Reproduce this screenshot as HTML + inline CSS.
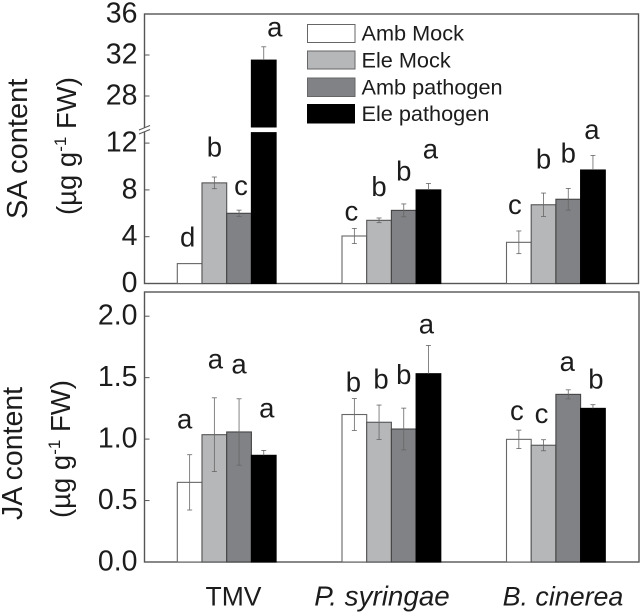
<!DOCTYPE html>
<html lang="en">
<head>
<meta charset="utf-8">
<title>SA and JA content chart</title>
<style>
html,body{margin:0;padding:0;background:#fff;width:640px;height:612px;overflow:hidden}
svg{display:block}
text{font-family:"Liberation Sans",sans-serif;fill:#1c1c1c}
</style>
</head>
<body>
<svg id="chart" xmlns="http://www.w3.org/2000/svg" width="640" height="612" viewBox="0 0 640 612">
  <g>
    <text transform="translate(27,219) rotate(-90)" font-size="29">SA content</text>
    <text transform="translate(76,215) rotate(-90)" font-size="27.5">(µg g<tspan dy="-10" font-size="17">-1</tspan><tspan dy="10"> FW)</tspan></text>
  </g>
  <g>
    <text transform="translate(22,520) rotate(-90)" font-size="28.5">JA content</text>
    <text transform="translate(70,518) rotate(-90)" font-size="27.5">(µg g<tspan dy="-10" font-size="17">-1</tspan><tspan dy="10"> FW)</tspan></text>
  </g>
  <g>
    <text x="233.5" y="605.5" font-size="26.5" text-anchor="middle">TMV</text>
    <text x="382" y="605.5" font-size="27.8" text-anchor="middle" font-style="italic">P. syringae</text>
    <text x="563" y="605.5" font-size="26.8" text-anchor="middle" font-style="italic">B. cinerea</text>
  </g>
  <g>
    <rect x="307.5" y="24.5" width="47.5" height="18" fill="#fff" stroke="#666"/>
    <text x="361.5" y="40.5" font-size="21.7">Amb Mock</text>
    <rect x="307.5" y="51" width="47.5" height="18" fill="#b5b7b9" stroke="#666"/>
    <text x="361.5" y="67.5" font-size="21.7">Ele Mock</text>
    <rect x="307.5" y="78" width="47.5" height="18.5" fill="#808285" stroke="#666"/>
    <text x="361.5" y="94.5" font-size="21.7">Amb pathogen</text>
    <rect x="307" y="104" width="48" height="19.5" fill="#000"/>
    <text x="361.5" y="121" font-size="21.7">Ele pathogen</text>
  </g>
</svg>
<script>
const groupNames = ['TMV', 'P. syringae', 'B. cinerea'];
const seriesNames = ['Amb Mock', 'Ele Mock', 'Amb pathogen', 'Ele pathogen'];

const saAmbMock = [1.7, 4.06, 3.52];
const saEleMock = [8.6, 5.4, 6.73];
const saAmbPathogen = [6.0, 6.25, 7.2];
const saElePathogen = [31.5, 8.0, 9.7];
const saAmbMockErr = [0, 0.65, 0.97];
const saEleMockErr = [0.5, 0.2, 1.0];
const saAmbPathogenErr = [0.27, 0.55, 0.93];
const saElePathogenErr = [1.3, 0.55, 1.25];
const saLetterAmbMock = ['d', 'c', 'c'];
const saLetterEleMock = ['b', 'b', 'b'];
const saLetterAmbPathogen = ['c', 'b', 'b'];
const saLetterElePathogen = ['a', 'a', 'a'];
const saLetterLevelAmbMock = [3.15, 5.37, 5.94];
const saLetterLevelEleMock = [10.84, 7.5, 9.85];
const saLetterLevelAmbPathogen = [7.56, 8.79, 10.36];
const saLetterLevelElePathogen = [33.8, 10.7, 12.35];
const saTicks = [0, 4, 8, 12, 28, 32, 36];

const jaAmbMock = [0.648, 1.2, 0.998];
const jaEleMock = [1.036, 1.137, 0.95];
const jaAmbPathogen = [1.058, 1.082, 1.364];
const jaElePathogen = [0.868, 1.532, 1.25];
const jaAmbMockErr = [0.225, 0.13, 0.075];
const jaEleMockErr = [0.3, 0.14, 0.045];
const jaAmbPathogenErr = [0.27, 0.17, 0.037];
const jaElePathogenErr = [0.04, 0.23, 0.03];
const jaLetterAmbMock = ['a', 'b', 'c'];
const jaLetterEleMock = ['a', 'b', 'c'];
const jaLetterAmbPathogen = ['a', 'b', 'a'];
const jaLetterElePathogen = ['a', 'a', 'b'];
const jaLetterLevelAmbMock = [1.088, 1.386, 1.155];
const jaLetterLevelEleMock = [1.576, 1.413, 1.133];
const jaLetterLevelAmbPathogen = [1.535, 1.448, 1.554];
const jaLetterLevelElePathogen = [1.174, 1.861, 1.413];
const jaTicks = [0, 0.5, 1, 1.5, 2];
const jaTickLabels = ['0.0', '0.5', '1.0', '1.5', '2.0'];

(function () {
  const NS = 'http://www.w3.org/2000/svg';
  const svg = document.getElementById('chart');
  const fills = ['#fff', '#b5b7b9', '#808285', '#000'];
  const strokes = ['#666', '#555', '#444', '#000'];
  const groupStart = [177.3, 342, 506.5];
  const barW = 24.7;
  const FRAME = '#555';

  function bandX(g, s) { return groupStart[g] + s * barW; }

  function saY(v) {
    return v <= 20 ? 283.5 - v * 11.7 : 96 + (28 - v) * 10.25;
  }
  function jaY(v) { return 562 - v * 122.9; }

  function attrs(el, map) {
    for (const k in map) el.setAttribute(k, map[k]);
  }

  function drawPanel(p) {
    const layer = document.createElementNS(NS, 'g');
    
    
    svg.appendChild(layer);

    const base = p.y(0);

    const frame = document.createElementNS(NS, 'rect');
    
    
    attrs(frame, { x: 144.5, y: p.top, width: p.right - 144.5, height: base - p.top, fill: 'none', stroke: FRAME, 'stroke-width': 1.4 });
    layer.appendChild(frame);

    p.ticks.forEach(function (t, i) {
      const y = p.y(t);
      if (t !== 0 && y > p.top + 1) {
        const tick = document.createElementNS(NS, 'line');
        
        
        attrs(tick, { x1: 144.5, x2: 149.5, y1: y, y2: y, stroke: FRAME, 'stroke-width': 1 });
        layer.appendChild(tick);
      }
      const label = document.createElementNS(NS, 'text');
      
      
      attrs(label, { x: 137.5, y: y + 8.5, 'text-anchor': 'end', 'font-size': 28.5 });
      label.textContent = p.tickLabels[i];
      layer.appendChild(label);
    });

    p.series.forEach(function (vals, s) {
      vals.forEach(function (v, g) {
        const x = bandX(g, s);
        const top = p.y(v);
        const bar = document.createElementNS(NS, 'rect');
        
        
        attrs(bar, { x: x, y: top, width: barW, height: base - top, fill: fills[s], stroke: strokes[s], 'stroke-width': 1.1 });
        layer.appendChild(bar);

        const e = p.errs[s][g];
        if (e > 0) {
          const cx = x + barW / 2;
          const hi = p.y(v + e);
          const onBlack = s === 3;
          const lo = onBlack ? top : p.y(v - e);
          const stem = document.createElementNS(NS, 'line');
          
          
          attrs(stem, { x1: cx, x2: cx, y1: hi, y2: lo, stroke: '#666', 'stroke-width': 0.8 });
          layer.appendChild(stem);
          (onBlack ? [hi] : [hi, lo]).forEach(function (cy) {
            const cap = document.createElementNS(NS, 'line');
            
            
            attrs(cap, { x1: cx - 2.5, x2: cx + 2.5, y1: cy, y2: cy, stroke: '#666', 'stroke-width': 0.8 });
            layer.appendChild(cap);
          });
        }

        const letter = document.createElementNS(NS, 'text');
        
        
        const nudge = p.nudge[g * 4 + s];
        attrs(letter, { x: x + barW / 2 + nudge, y: p.y(p.levels[s][g]), 'text-anchor': 'middle', 'font-size': 27.5 });
        letter.textContent = p.letters[s][g];
        layer.appendChild(letter);
      });
    });

    if (p.hasBreak) {
      const gap = document.createElementNS(NS, 'rect');
      
      
      attrs(gap, { x: 140, y: 127.5, width: 140, height: 4.6, fill: '#fff' });
      layer.appendChild(gap);
      [0, 4].forEach(function (d) {
        const slash = document.createElementNS(NS, 'line');
        
        
        attrs(slash, { x1: 139, x2: 150, y1: 130 + d, y2: 125.5 + d, stroke: FRAME, 'stroke-width': 1 });
        layer.appendChild(slash);
      });
    }
  }

  drawPanel({
    top: 14, right: 638.5, y: saY, ticks: saTicks, tickLabels: saTicks.map(String), hasBreak: true,
    series: [saAmbMock, saEleMock, saAmbPathogen, saElePathogen],
    errs: [saAmbMockErr, saEleMockErr, saAmbPathogenErr, saElePathogenErr],
    letters: [saLetterAmbMock, saLetterEleMock, saLetterAmbPathogen, saLetterElePathogen],
    levels: [saLetterLevelAmbMock, saLetterLevelEleMock, saLetterLevelAmbPathogen, saLetterLevelElePathogen],
    nudge: [-2, 0, 2, 11, -3, 0, 0, 2, -4, 0, 0, -1]
  });
  drawPanel({
    top: 292, right: 639, y: jaY, ticks: jaTicks, tickLabels: jaTickLabels, hasBreak: false,
    series: [jaAmbMock, jaEleMock, jaAmbPathogen, jaElePathogen],
    errs: [jaAmbMockErr, jaEleMockErr, jaAmbPathogenErr, jaElePathogenErr],
    letters: [jaLetterAmbMock, jaLetterEleMock, jaLetterAmbPathogen, jaLetterElePathogen],
    levels: [jaLetterLevelAmbMock, jaLetterLevelEleMock, jaLetterLevelAmbPathogen, jaLetterLevelElePathogen],
    nudge: [-5, 1, 0, 3, -1, 2, 0, -2, -2, -2, -1, 3]
  });
})();
</script>
</body>
</html>
